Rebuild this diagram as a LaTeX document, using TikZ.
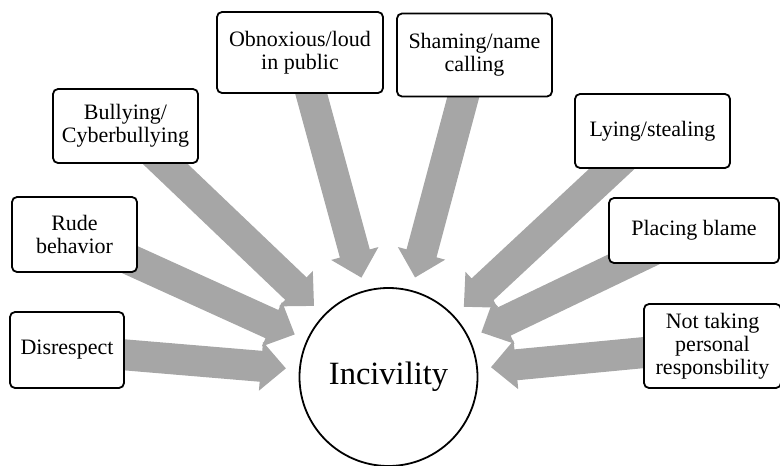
\documentclass[tikz,border=0pt]{standalone}
\usepackage{fontspec}
\setmainfont{Liberation Serif}
\usetikzlibrary{calc,backgrounds}
\definecolor{arrgray}{HTML}{A6A6A6}
\tikzset{
  box/.style={draw=black, line width=1.8pt, rounded corners=5pt, fill=white,
    align=center, inner sep=2pt, font=\fontsize{22}{23}\selectfont},
  hub/.style={circle, draw=black, line width=1.8pt, fill=white, minimum size=178pt,
    inner sep=0pt, font=\fontsize{32.5}{34}\selectfont},
  blockfill/.style={fill=arrgray}
}
\newcommand\blockarr[1]{%
  \coordinate (T) at ($(inc.center)!103pt!(#1.center)$);
  \coordinate (H) at ($(inc.center)!128pt!(#1.center)$);
  \fill[blockfill] ($(#1.center)!15.5pt!90:(T)$) -- ($(H)!15.5pt!90:(T)$)
    -- ($(H)!24.5pt!90:(T)$) -- (T) -- ($(H)!24.5pt!-90:(T)$)
    -- ($(H)!15.5pt!-90:(T)$) -- ($(#1.center)!15.5pt!-90:(T)$) -- cycle;
}
\begin{document}
\begin{tikzpicture}[x=1pt,y=-1pt]
\useasboundingbox (0,0) rectangle (780,466);
\begin{scope}
\clip (0,0) rectangle (780,466);
\node[hub] (inc) at (388.5,377) {Incivility};
\node[box, minimum width=114pt, minimum height=76pt] (dis) at (67,350) {Disrespect};
\node[box, minimum width=125pt, minimum height=75pt] (rude) at (74.5,234.5) {Rude\\behavior};
\node[box, minimum width=145pt, minimum height=74pt] (bully) at (125.5,126) {Bullying/\\Cyberbullying};
\node[box, minimum width=166pt, minimum height=81pt] (obn) at (300,52.5) {Obnoxious/loud\\in public};
\node[box, minimum width=155pt, minimum height=83pt] (sham) at (474.5,55) {Shaming/name\\calling};
\node[box, minimum width=155pt, minimum height=74pt] (lying) at (652.5,131) {Lying/stealing};
\node[box, minimum width=170pt, minimum height=65pt] (blame) at (694,230.5) {Placing blame};
\node[box, minimum width=137pt, minimum height=84pt] (nottak) at (712.5,346) {Not taking\\personal\\responsbility};
\begin{pgfonlayer}{background}
\blockarr{dis}
\blockarr{rude}
\blockarr{bully}
\blockarr{obn}
\blockarr{sham}
\blockarr{lying}
\blockarr{blame}
\blockarr{nottak}
\end{pgfonlayer}
\end{scope}
\end{tikzpicture}
\end{document}
